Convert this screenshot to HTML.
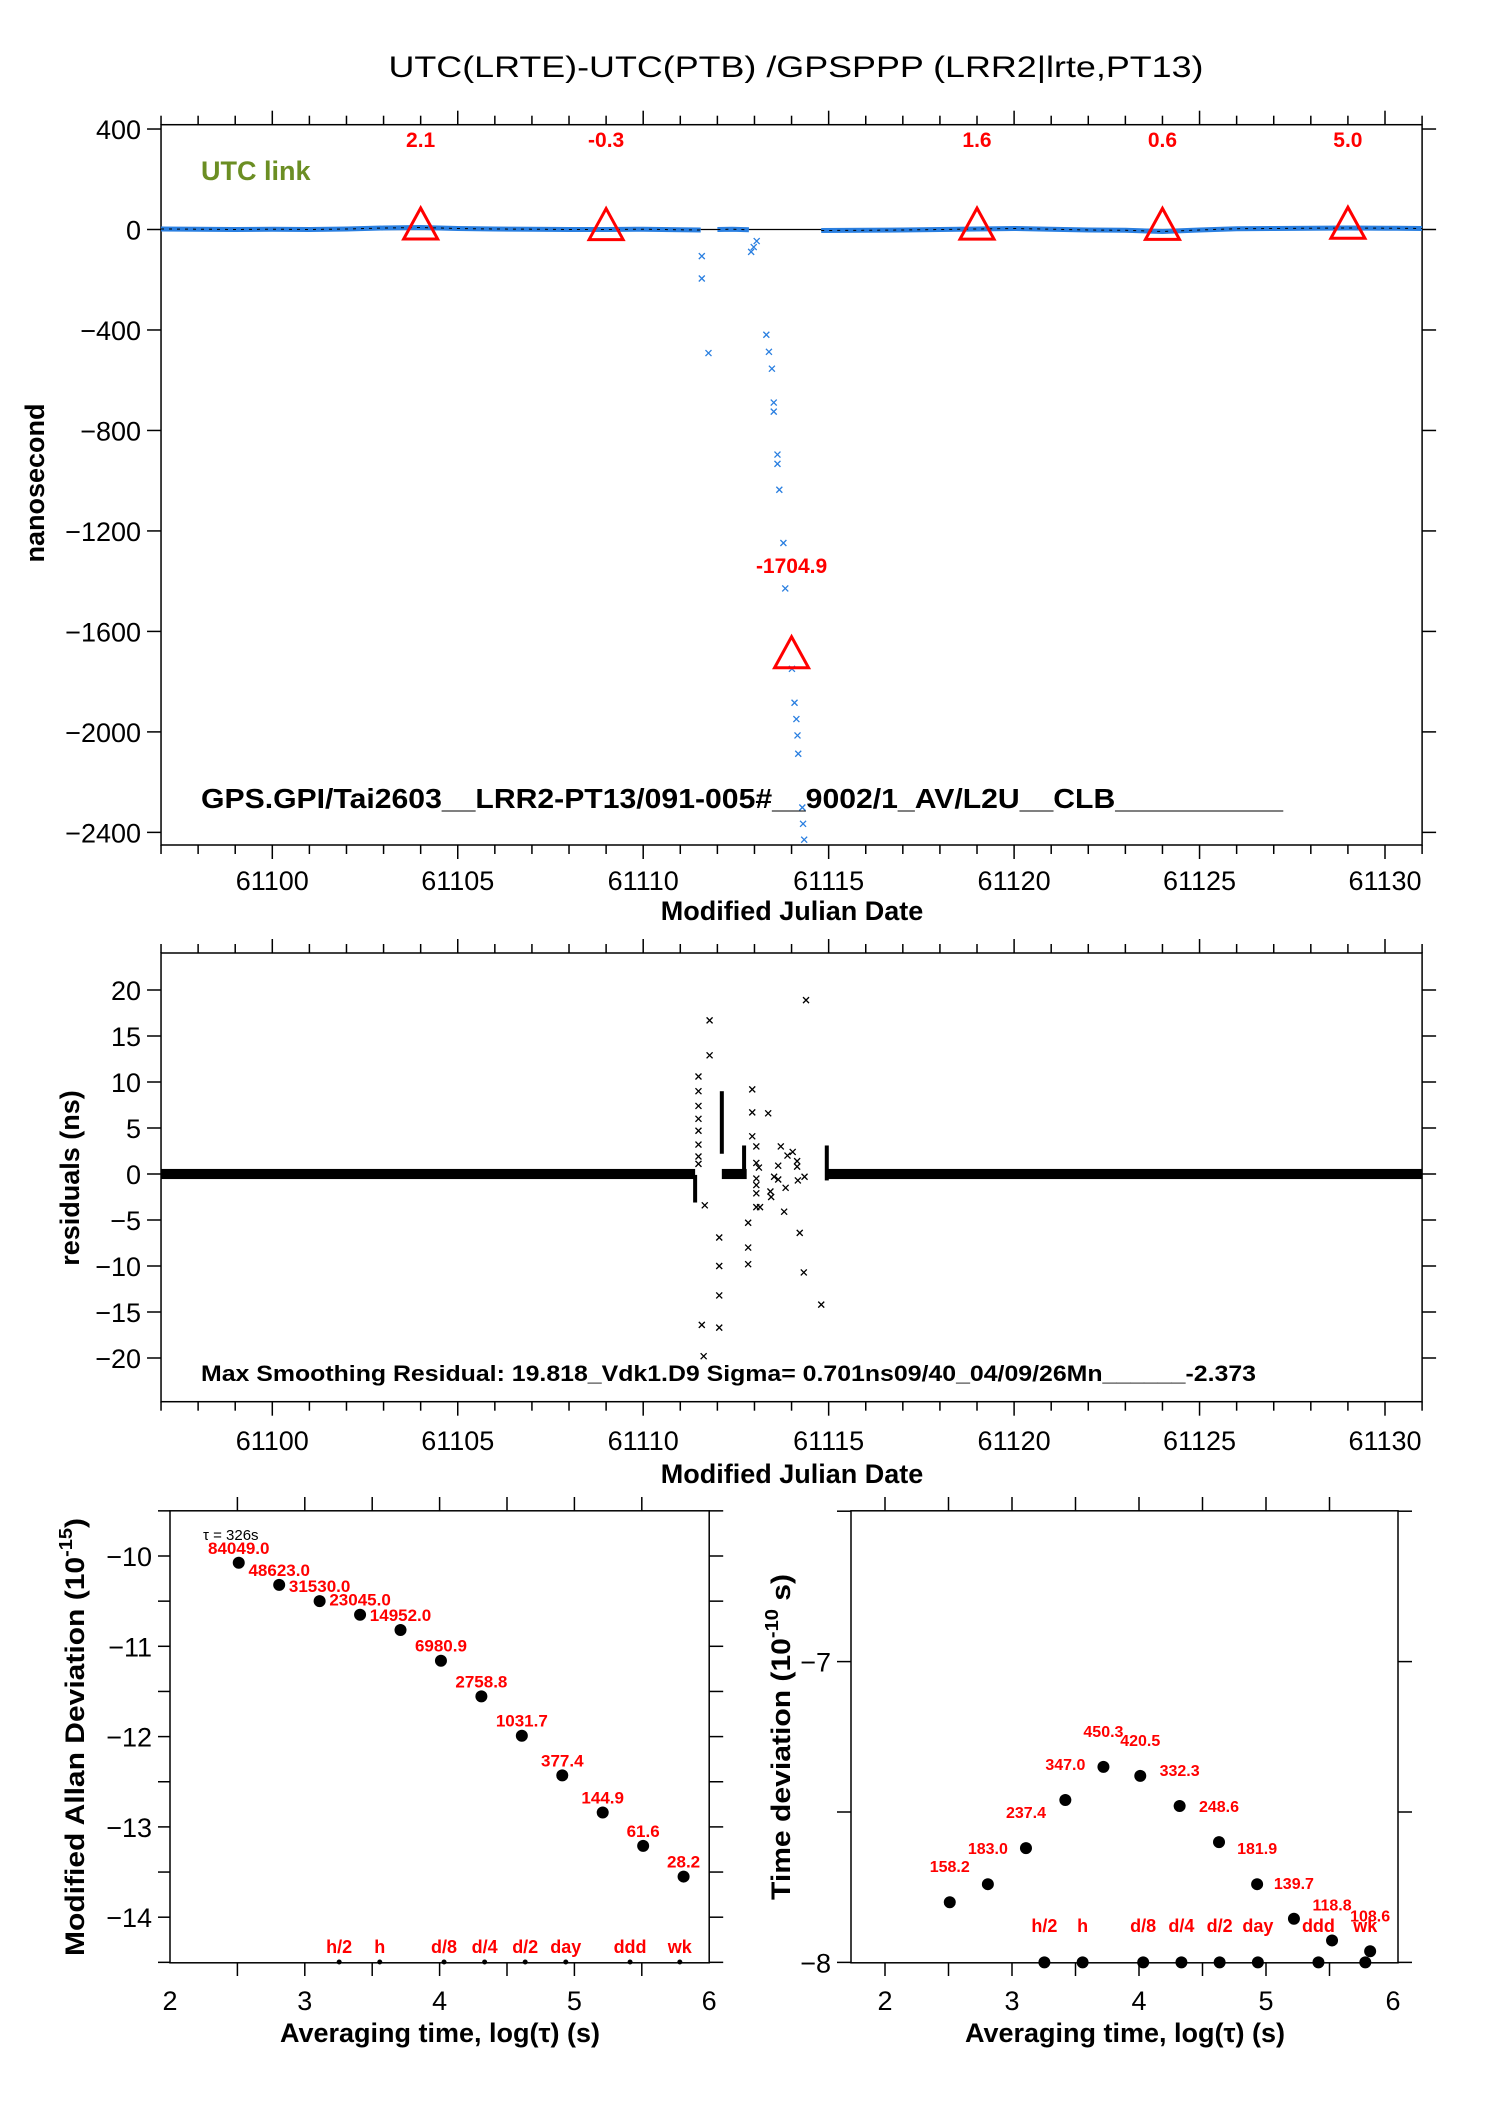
<!DOCTYPE html>
<html><head><meta charset="utf-8"><style>
html,body{margin:0;padding:0;background:#fff}
svg{display:block}
text{font-family:"Liberation Sans",sans-serif}
.bt{font-weight:bold}
</style></head><body>
<svg id="chart" xmlns="http://www.w3.org/2000/svg" width="1488" height="2105" viewBox="0 0 1488 2105">
<rect x="0" y="0" width="1488" height="2105" fill="#fff"/>
<text x="796" y="77" font-size="30" text-anchor="middle" textLength="815" lengthAdjust="spacingAndGlyphs">UTC(LRTE)-UTC(PTB)  /GPSPPP  (LRR2|lrte,PT13)</text>
<g id="top"></g>
<g id="mid"></g>
<g id="left"></g>
<g id="right"></g>
<text x="201" y="180" font-size="27" class="bt" fill="#6b8e23">UTC link</text>
<text x="201" y="808" font-size="28" class="bt" textLength="1082" lengthAdjust="spacingAndGlyphs">GPS.GPI/Tai2603__LRR2-PT13/091-005#__9002/1_AV/L2U__CLB__________</text>
<text x="792" y="920" font-size="27" class="bt" text-anchor="middle">Modified Julian Date</text>
<text transform="translate(44,483) rotate(-90)" font-size="27" class="bt" text-anchor="middle">nanosecond</text>
<text x="201" y="1381" font-size="22" class="bt" textLength="1055" lengthAdjust="spacingAndGlyphs">Max Smoothing Residual: 19.818_Vdk1.D9  Sigma= 0.701ns09/40_04/09/26Mn______-2.373</text>
<text x="792" y="1483" font-size="27" class="bt" text-anchor="middle">Modified Julian Date</text>
<text transform="translate(79,1178) rotate(-90)" font-size="27" class="bt" text-anchor="middle">residuals (ns)</text>
<text transform="translate(84,1737) rotate(-90)" font-size="27" class="bt" text-anchor="middle" textLength="438" lengthAdjust="spacingAndGlyphs">Modified Allan Deviation (10<tspan font-size="18" dy="-12">-15</tspan><tspan dy="12">)</tspan></text>
<text transform="translate(790,1737) rotate(-90)" font-size="27" class="bt" text-anchor="middle" textLength="326" lengthAdjust="spacingAndGlyphs">Time deviation (10<tspan font-size="18" dy="-12">-10</tspan><tspan dy="12"> s)</tspan></text>
<text x="440" y="2042" font-size="27" class="bt" text-anchor="middle">Averaging time, log(τ) (s)</text>
<text x="1125" y="2042" font-size="27" class="bt" text-anchor="middle">Averaging time, log(τ) (s)</text>
<text x="203" y="1540" font-size="15" fill="#000">τ = 326s</text>
</svg>
<script>
// ---------- data ----------
const lineSeg1Mjd=[61097,61098,61099,61100,61101,61102,61103,61104,61105,61106,61107,61108,61109,61110,61111,61111.55];
const lineSeg1Val=[2,1,0,1,0,2,6,8,4,2,1,0,0,1,-1,-2];
const lineSeg2Mjd=[61112.0,61112.4,61112.85];
const lineSeg2Val=[0,1,-1];
const lineSeg3Mjd=[61114.8,61116,61117,61118,61119,61120,61121,61122,61123,61124,61125,61126,61127,61128,61129,61130,61131];
const lineSeg3Val=[-4,-3,-2,0,2,4,1,-2,-3,-8,-2,3,4,5,6,5,4];
const outMjd=[61111.58,61111.58,61111.76,61112.91,61112.98,61113.06,61113.32,61113.39,61113.47,61113.52,61113.52,61113.62,61113.62,61113.67,61113.78,61113.83,61114.01,61114.08,61114.13,61114.16,61114.18,61114.29,61114.31,61114.34];
const outVal=[-106,-195,-492,-89,-70,-46,-419,-487,-554,-689,-725,-896,-933,-1036,-1248,-1429,-1749,-1884,-1949,-2014,-2087,-2301,-2366,-2429];
const triMjd=[61104,61109,61114,61119,61124,61129];
const triVal=[2.1,-0.3,-1704.9,1.6,0.6,5.0];
const topYTicks=[400,0,-400,-800,-1200,-1600,-2000,-2400];
const topYTickLabels=["400","0","\u2212400","\u2212800","\u22121200","\u22121600","\u22122000","\u22122400"];
const mjdMajor=[61100,61105,61110,61115,61120,61125,61130];

const bandStart=[61097,61112.12,61114.95];
const bandEnd=[61111.40,61112.79,61131];
const resMjd=[61114.39,61111.79,61111.79,61111.49,61111.49,61111.49,61111.49,61111.49,61111.49,61111.49,61111.49,61111.66,61112.05,61112.05,61112.05,61112.05,61111.58,61111.63,61112.94,61112.94,61112.94,61113.05,61113.05,61113.12,61113.05,61113.05,61113.05,61113.05,61113.15,61112.83,61112.83,61112.83,61113.37,61113.71,61113.64,61113.53,61113.64,61113.43,61113.45,61113.84,61113.80,61113.89,61114.03,61114.15,61114.15,61114.17,61114.35,61114.22,61114.33,61114.80];
const resVal=[18.9,16.7,12.9,10.6,9.0,7.4,6.0,4.7,3.2,1.9,1.1,-3.4,-6.9,-10.0,-13.2,-16.7,-16.4,-19.8,9.2,6.7,4.1,3.0,1.2,0.7,-0.5,-1.2,-2.1,-3.6,-3.6,-5.3,-8.0,-9.8,6.6,3.0,0.9,-0.3,-0.6,-1.9,-2.5,-1.5,-4.1,2.0,2.4,1.4,0.8,-0.7,-0.3,-6.4,-10.7,-14.2];
const colMjd=[61111.40,61112.12,61112.72,61114.95];
const colLo=[-3.1,2.2,0.0,-0.7];
const colHi=[-0.1,9.0,3.1,3.1];
const resYTicks=[20,15,10,5,0,-5,-10,-15,-20];
const resYTickLabels=["20","15","10","5","0","\u22125","\u221210","\u221215","\u221220"];

const mdevTau=[2.51,2.81,3.11,3.41,3.71,4.01,4.31,4.61,4.91,5.21,5.51,5.81];
const mdevVal=[-10.075,-10.32,-10.50,-10.65,-10.82,-11.16,-11.555,-11.99,-12.43,-12.84,-13.21,-13.55];
const mdevLabels=["84049.0","48623.0","31530.0","23045.0","14952.0","6980.9","2758.8","1031.7","377.4","144.9","61.6","28.2"];
const tdevTau=[2.51,2.81,3.11,3.42,3.72,4.01,4.32,4.63,4.93,5.22,5.52,5.82];
const tdevVal=[-7.80,-7.74,-7.62,-7.46,-7.35,-7.38,-7.48,-7.60,-7.74,-7.855,-7.927,-7.963];
const tdevLabels=["158.2","183.0","237.4","347.0","450.3","420.5","332.3","248.6","181.9","139.7","118.8","108.6"];
const markTau=[3.255,3.556,4.033,4.334,4.635,4.936,5.413,5.782];
const markLabels=["h/2","h","d/8","d/4","d/2","day","ddd","wk"];
const mdevYTicks=[-10,-11,-12,-13,-14];
const tdevYTicks=[-7,-8];
const logXTicks=[2,3,4,5,6];

// ---------- scales ----------
const X=m=>272.3+(m-61100)*37.09;
const Yt=v=>229.5-v*0.2512;
const Yr=v=>1174-v*9.2;
const Lx=l=>170+(l-2)*134.8;
const Ly=v=>1556-(v+10)*90.3;
const Rx=l=>885+(l-2)*127;
const Ry=v=>1661.6-(v+7)*300.8;
const LX0=Lx(2), LX1=Lx(6), RX0=851, RX1=1398;

const NS='http://www.w3.org/2000/svg';
function mk(parent,tag,attrs,name){
  const e=document.createElementNS(NS,tag);
  for(const k in attrs) e.setAttribute(k,attrs[k]);
  
  
  parent.appendChild(e);
  return e;
}
function txt(parent,x,y,s,size,anchor,fill,bold,name){
  const t=mk(parent,'text',{x:x,y:y,'font-size':size,'text-anchor':anchor,fill:fill,'font-weight':bold?'bold':'normal'},name);
  t.textContent=s;
  return t;
}
function xmark(parent,x,y,s,color,name){
  return mk(parent,'path',{d:`M${x-s} ${y-s}L${x+s} ${y+s}M${x-s} ${y+s}L${x+s} ${y-s}`,stroke:color,'stroke-width':1.3,fill:'none'},name);
}

// ---------- MJD panels ----------
function mjdFrame(g,top,bot,yt,ticks,labels,ylab){
  mk(g,'rect',{x:X(61097),y:top,width:X(61131)-X(61097),height:bot-top,fill:'none',stroke:'#000','stroke-width':1.5},'plot-frame');
  for(let m=61097;m<=61131;m++){
    const maj=(m%5===0);
    const L=maj?14:9;
    mk(g,'line',{x1:X(m),x2:X(m),y1:top,y2:top-L,stroke:'#000','stroke-width':1.5},'x-tick-top');
    mk(g,'line',{x1:X(m),x2:X(m),y1:bot,y2:bot+L,stroke:'#000','stroke-width':1.5},'x-tick-bottom');
  }
  mjdMajor.forEach(m=>{txt(g,X(m),ylab,String(m),27,'middle','#000',false,'x-tick-label');});
  ticks.forEach((v,i)=>{
    const y=yt(v);
    mk(g,'line',{x1:X(61097)-14,x2:X(61097),y1:y,y2:y,stroke:'#000','stroke-width':1.5},'y-tick-left');
    mk(g,'line',{x1:X(61131),x2:X(61131)+14,y1:y,y2:y,stroke:'#000','stroke-width':1.5},'y-tick-right');
    txt(g,X(61097)-20,y+10,labels[i],27,'end','#000',false,'y-tick-label');
  });
}
const gt=document.getElementById('top');
mjdFrame(gt,124.7,845,Yt,topYTicks,topYTickLabels,890);
mk(gt,'line',{x1:X(61097),x2:X(61131),y1:Yt(0),y2:Yt(0),stroke:'#000','stroke-width':1.2},'zero-line');
[[lineSeg1Mjd,lineSeg1Val],[lineSeg2Mjd,lineSeg2Val],[lineSeg3Mjd,lineSeg3Val]].forEach(([ms,vs])=>{
  const d=ms.map((m,i)=>(i?'L':'M')+X(m).toFixed(1)+' '+Yt(vs[i]).toFixed(1)).join('');
  mk(gt,'path',{d:d,stroke:'#2a7fe0','stroke-width':5,fill:'none'},'utc-link-series');
  mk(gt,'path',{d:d,stroke:'#000','stroke-width':1,fill:'none','stroke-dasharray':'3 5'},'utc-link-raw');
});
outMjd.forEach((m,i)=>{xmark(gt,X(m),Yt(outVal[i]),3,'#2a7fe0','outlier-point');});
triMjd.forEach((m,i)=>{
  const cx=X(m), cy=Yt(triVal[i]);
  mk(gt,'path',{d:`M${cx} ${cy-21}L${cx+17} ${cy+10}L${cx-17} ${cy+10}Z`,fill:'none',stroke:'#ff0000','stroke-width':3},'calibration-triangle');
  const s=triVal[i].toFixed(1);
  if(triVal[i]<-500) txt(gt,cx,cy-85,s,21,'middle','#ff0000',true,'triangle-value-label');
  else txt(gt,cx,147,s,21,'middle','#ff0000',true,'triangle-value-label');
});

const gm=document.getElementById('mid');
mjdFrame(gm,953,1401.7,Yr,resYTicks,resYTickLabels,1450);
bandStart.forEach((s,i)=>{
  mk(gm,'rect',{x:X(s),y:Yr(0.55),width:X(bandEnd[i])-X(s),height:Yr(-0.55)-Yr(0.55),fill:'#000'},'residual-noise-band');
});
colMjd.forEach((m,i)=>{
  mk(gm,'rect',{x:X(m)-2,y:Yr(colHi[i]),width:4,height:Yr(colLo[i])-Yr(colHi[i]),fill:'#000'},'residual-dense-column');
});
resMjd.forEach((m,i)=>{xmark(gm,X(m),Yr(resVal[i]),3,'#000','residual-point');});

// ---------- log panels ----------
const gl=document.getElementById('left');
mk(gl,'rect',{x:LX0,y:1510.8,width:LX1-LX0,height:452,fill:'none',stroke:'#000','stroke-width':1.5},'mdev-frame');
[2.5,3,3.5,4,4.5,5,5.5].forEach(l=>{
  mk(gl,'line',{x1:Lx(l),x2:Lx(l),y1:1510.8,y2:1497,stroke:'#000','stroke-width':1.5},'x-tick-top');
  mk(gl,'line',{x1:Lx(l),x2:Lx(l),y1:1962.8,y2:1976,stroke:'#000','stroke-width':1.5},'x-tick-bottom');
});
logXTicks.forEach(l=>{txt(gl,Lx(l),2010,String(l),27,'middle','#000',false,'x-tick-label');});
[-9.5,-10,-10.5,-11,-11.5,-12,-12.5,-13,-13.5,-14,-14.5].forEach(v=>{
  mk(gl,'line',{x1:LX1,x2:LX1+14,y1:Ly(v),y2:Ly(v),stroke:'#000','stroke-width':1.5},'y-tick-right');
  mk(gl,'line',{x1:LX0-12,x2:LX0,y1:Ly(v),y2:Ly(v),stroke:'#000','stroke-width':1.5},'y-tick-left');
});
mdevYTicks.forEach(v=>{txt(gl,152,Ly(v)+10,'\u2212'+Math.abs(v),27,'end','#000',false,'y-tick-label');});
mdevTau.forEach((l,i)=>{
  mk(gl,'circle',{cx:Lx(l),cy:Ly(mdevVal[i]),r:6,fill:'#000'},'mdev-point');
  txt(gl,Lx(l),Ly(mdevVal[i])-9,mdevLabels[i],17,'middle','#ff0000',true,'mdev-point-label');
});
markTau.forEach((l,i)=>{
  mk(gl,'circle',{cx:Lx(l),cy:1962,r:2.5,fill:'#000'},'interval-marker');
  txt(gl,Lx(l),1953,markLabels[i],18,'middle','#ff0000',true,'interval-marker-label');
});

const gr=document.getElementById('right');
mk(gr,'rect',{x:RX0,y:1510.8,width:RX1-RX0,height:452,fill:'none',stroke:'#000','stroke-width':1.5},'tdev-frame');
[2,2.5,3,3.5,4,4.5,5,5.5].forEach(l=>{
  mk(gr,'line',{x1:Rx(l),x2:Rx(l),y1:1510.8,y2:1497,stroke:'#000','stroke-width':1.5},'x-tick-top');
  mk(gr,'line',{x1:Rx(l),x2:Rx(l),y1:1962.8,y2:1976,stroke:'#000','stroke-width':1.5},'x-tick-bottom');
});
logXTicks.forEach(l=>{txt(gr,Rx(l),2010,String(l),27,'middle','#000',false,'x-tick-label');});
[-6.5,-7,-7.5,-8].forEach(v=>{
  mk(gr,'line',{x1:RX1,x2:RX1+14,y1:Ry(v),y2:Ry(v),stroke:'#000','stroke-width':1.5},'y-tick-right');
  mk(gr,'line',{x1:RX0-14,x2:RX0,y1:Ry(v),y2:Ry(v),stroke:'#000','stroke-width':1.5},'y-tick-left');
});
tdevYTicks.forEach(v=>{txt(gr,RX0-20,Ry(v)+10,'\u2212'+Math.abs(v),27,'end','#000',false,'y-tick-label');});
tdevTau.forEach((l,i)=>{
  mk(gr,'circle',{cx:Rx(l),cy:Ry(tdevVal[i]),r:6,fill:'#000'},'tdev-point');
  txt(gr,Rx(l),Ry(tdevVal[i])-30,tdevLabels[i],16,'middle','#ff0000',true,'tdev-point-label');
});
markTau.forEach((l,i)=>{
  mk(gr,'circle',{cx:Rx(l),cy:Ry(-8),r:6,fill:'#000'},'interval-marker');
  txt(gr,Rx(l),1932,markLabels[i],18,'middle','#ff0000',true,'interval-marker-label');
});
</script>
</body></html>
